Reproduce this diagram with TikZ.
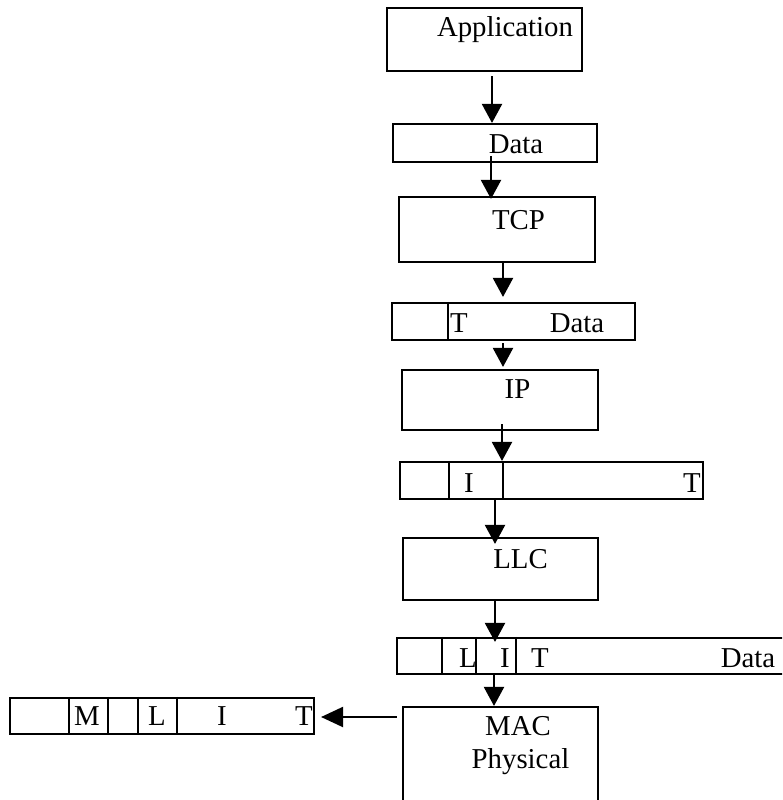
\documentclass[tikz,border=0pt]{standalone}
\usepackage{fontspec}
\setmainfont{Liberation Serif}
\usetikzlibrary{arrows.meta,calc}
\begin{document}
\begin{tikzpicture}[x=1pt,y=-1pt,
  box/.style={draw,line width=2.1pt,inner sep=0pt,rectangle},
  lbl/.style={anchor=base,inner sep=0pt,font=\fontsize{28.8}{32}\selectfont},
  arr/.style={line width=2.1pt,-{Triangle[length=19pt,width=20pt]}},
  harr/.style={line width=2.1pt,-{Triangle[length=22pt,width=20pt]}},
  divider/.style={line width=1.9pt}]
\useasboundingbox (0,0) rectangle (782,800);
\clip (0,0) rectangle (782,800);

% protocol layers
\node[box,minimum width=195pt,minimum height=63pt] (app) at (484.5,39.5) {};
\node[box,minimum width=196pt,minimum height=65pt] (tcp) at (497,229.5) {};
\node[box,minimum width=196pt,minimum height=60pt] (ip)  at (500,400) {};
\node[box,minimum width=195pt,minimum height=62pt] (llc) at (500.5,569) {};
\node[box,minimum width=195pt,minimum height=123pt] (mac) at (500.5,768.5) {};

\node[lbl] (tapp) at (505,37) {Application};
\node[lbl] (ttcp) at (518.5,229) {TCP};
\node[lbl] (tip)  at (517.5,398) {IP};
\node[lbl] (tllc) at (520.5,568) {LLC};
\node[lbl] (tmac) at (518,735) {MAC};
\node[lbl] (tphy) at (520.5,768) {Physical};

% data units
\node[box,minimum width=204pt,minimum height=38pt] (d1) at (495,143) {};
\node[lbl] (d1data) at (516,153) {Data};

\node[box,minimum width=243pt,minimum height=37pt] (d2) at (513.5,321.5) {};
\draw[divider] (d2.north -| 448,0) -- (d2.south -| 448,0);
\node[lbl] (d2t) at (459,332) {T};
\node[lbl] (d2data) at (577,332) {Data};

\node[box,minimum width=303pt,minimum height=37pt] (d3) at (551.5,480.5) {};
\draw[divider] (d3.north -| 449,0) -- (d3.south -| 449,0);
\draw[divider] (d3.north -| 503,0) -- (d3.south -| 503,0);
\node[lbl] (d3i) at (469,492) {I};
\node[lbl] (d3t) at (692,492) {T};

\node[box,minimum width=403pt,minimum height=36pt] (d4) at (598.5,656) {};
\draw[divider] (d4.north -| 442,0) -- (d4.south -| 442,0);
\draw[divider] (d4.north -| 476,0) -- (d4.south -| 476,0);
\draw[divider] (d4.north -| 516,0) -- (d4.south -| 516,0);
\node[lbl] (d4l) at (468,667) {L};
\node[lbl] (d4i) at (505,667) {I};
\node[lbl] (d4t) at (540,667) {T};
\node[lbl] (d4data) at (748,667) {Data};

\node[box,minimum width=304pt,minimum height=36pt] (d5) at (162,716) {};
\draw[divider] (d5.north -| 69,0) -- (d5.south -| 69,0);
\draw[divider] (d5.north -| 108,0) -- (d5.south -| 108,0);
\draw[divider] (d5.north -| 138,0) -- (d5.south -| 138,0);
\draw[divider] (d5.north -| 177,0) -- (d5.south -| 177,0);
\node[lbl] (d5m) at (87,725) {M};
\node[lbl] (d5l) at (157,725) {L};
\node[lbl] (d5i) at (222,725) {I};
\node[lbl] (d5t) at (304,725) {T};

% flow down the stack
\draw[arr,shorten <=4pt] (app.south -| 492,0) -- (d1.north -| 492,0);
\draw[arr,shorten >=-3pt] ($(d1.south -| 491,0)+(0,-7)$) -- (tcp.north -| 491,0);
\draw[arr,shorten >=5pt] (tcp.south -| 503,0) -- (d2.north -| 503,0);
\draw[arr,shorten <=2pt,shorten >=2pt] (d2.south -| 503,0) -- (ip.north -| 503,0);
\draw[arr] ($(ip.south -| 502,0)+(0,-7)$) -- (d3.north -| 502,0);
\draw[arr,shorten >=-7pt] (d3.south -| 495,0) -- (llc.north -| 495,0);
\draw[arr,shorten >=-5pt] (llc.south -| 495,0) -- (d4.north -| 495,0);
\draw[arr] ($(d4.south -| 494,0)+(0,-2)$) -- (mac.north -| 494,0);
\draw[harr,shorten <=5pt,shorten >=6pt] ($(mac.west |- d5.east)+(0,1)$) -- ($(d5.east)+(0,1)$);
\end{tikzpicture}
\end{document}
